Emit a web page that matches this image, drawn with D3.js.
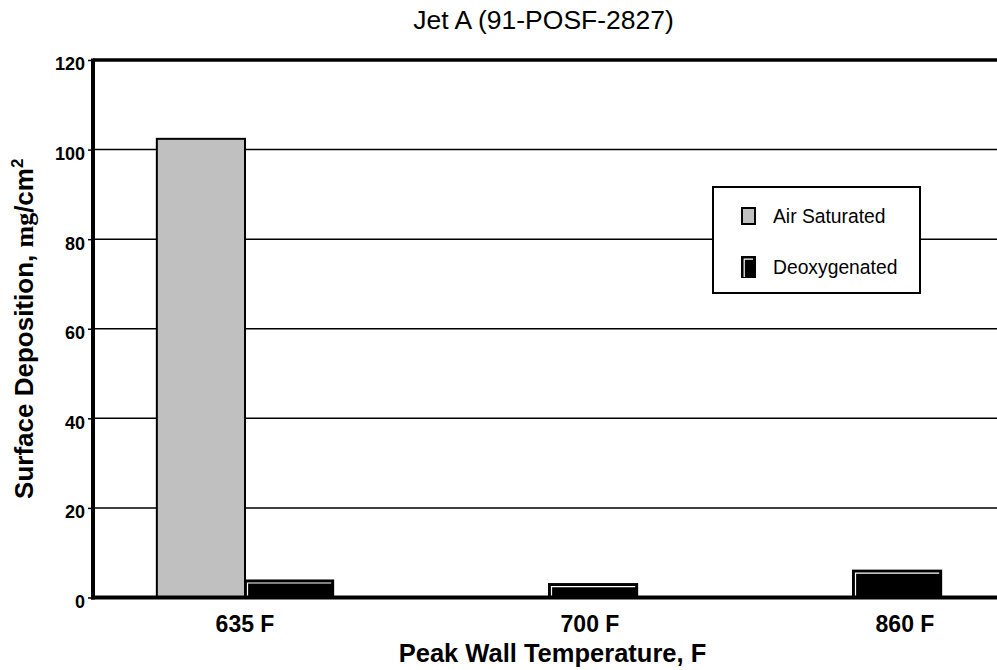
<!DOCTYPE html>
<html>
<head>
<meta charset="utf-8">
<script src="https://cdn.jsdelivr.net/npm/d3@7"></script>
<style>
  html, body { margin: 0; padding: 0; background: #fff; }
  svg { display: block; }
</style>
</head>
<body>
<svg id="chart" width="997" height="670"></svg>
<script>
// ---- data ----
const categories = ["635 F", "700 F", "860 F"];
const seriesNames = ["Air Saturated", "Deoxygenated"];
const airSaturated = [102.4, 0, 0];
const deoxygenated = [3.8, 3.0, 6.0];
const yTicks = [0, 20, 40, 60, 80, 100, 120];
const titleText = "Jet A (91-POSF-2827)";
const xTitleText = "Peak Wall Temperature, F";

// ---- layout ----
const W = 997, H = 670;
const plot = { left: 93, right: 1005, top: 60, bottom: 597.5 };
const tickLabelDx = [0, 41, 52];   // category label nudges as in reference
const colors = { "Air Saturated": "#c0c0c0", "Deoxygenated": "#000000" };
const FONT = "'Liberation Sans', Arial, sans-serif";

const svg = d3.select("#chart");

const x = d3.scaleBand().domain(categories).range([plot.left, plot.right])
  .paddingInner(0.42).paddingOuter(0.21);
const xs = d3.scaleBand().domain(seriesNames).range([0, x.bandwidth()]);
const y = d3.scaleLinear().domain([0, 120]).range([plot.bottom, plot.top]);

// gridlines (interior)
svg.append("g").selectAll("line")
  .data(yTicks.filter(t => t > 0 && t < 120))
  .join("line")
  .attr("x1", plot.left).attr("x2", plot.right)
  .attr("y1", d => y(d)).attr("y2", d => y(d))
  .attr("stroke", "#000").attr("stroke-width", 1.5);

// top frame line
svg.append("line")
  .attr("x1", plot.left).attr("x2", plot.right)
  .attr("y1", y(120)).attr("y2", y(120))
  .attr("stroke", "#000").attr("stroke-width", 3.5);

// bars
const rows = categories.map((c, i) => ({ cat: c, vals: [
  { s: "Air Saturated", v: airSaturated[i] },
  { s: "Deoxygenated", v: deoxygenated[i] }
]}));
const groups = svg.append("g").selectAll("g").data(rows).join("g")
  .attr("transform", d => `translate(${x(d.cat)},0)`);
groups.selectAll("rect.bar").data(d => d.vals.filter(v => v.v > 0)).join("rect")
  .attr("class", "bar")
  .attr("x", d => xs(d.s))
  .attr("y", d => y(d.v))
  .attr("width", xs.bandwidth())
  .attr("height", d => y(0) - y(d.v))
  .attr("fill", d => colors[d.s])
  .attr("stroke", "#000").attr("stroke-width", 2);
// white bevel highlight on dark bars
groups.selectAll("path.hl").data(d => d.vals.filter(v => v.v > 0 && v.s === "Deoxygenated")).join("path")
  .attr("class", "hl")
  .attr("d", d => {
    const x0 = xs(d.s) + 2.5, y0 = y(d.v) + 2.5, x1 = xs(d.s) + xs.bandwidth() - 2, y1 = y(0);
    return `M${x0},${y1}V${y0}H${x1}`;
  })
  .attr("fill", "none").attr("stroke", "#fff").attr("stroke-width", 1.2);

// y axis
const yAxis = d3.axisLeft(y).tickValues(yTicks).tickSize(5).tickPadding(4).tickFormat(d3.format("d"));
const gy = svg.append("g").attr("transform", `translate(${plot.left},0)`).call(yAxis);
gy.select(".domain").attr("stroke-width", 4).attr("d", `M0,${plot.top - 1.5}V${plot.bottom + 2}`);
gy.selectAll(".tick line").attr("stroke-width", 1.5);
gy.selectAll(".tick text")
  .attr("font-family", FONT).attr("font-weight", "bold").attr("font-size", 18)
  .attr("fill", "#000").attr("dy", "0.55em").attr("x", -8);

// x axis
const xAxis = d3.axisBottom(x).tickSize(0).tickPadding(0);
const gx = svg.append("g").attr("transform", `translate(0,${plot.bottom})`).call(xAxis);
gx.select(".domain").attr("stroke-width", 4).attr("d", `M${plot.left - 2},0H${plot.right}`);
gx.selectAll(".tick text")
  .attr("font-family", FONT).attr("font-weight", "bold").attr("font-size", 23)
  .attr("fill", "#000").attr("y", 34.5).attr("dy", 0)
  .attr("dx", (d, i) => tickLabelDx[i]);

// title
svg.append("text")
  .attr("x", 543.5).attr("y", 28.5)
  .attr("text-anchor", "middle")
  .attr("font-family", FONT).attr("font-size", 26.5)
  .text(titleText);

// x title
svg.append("text")
  .attr("x", 552.5).attr("y", 662)
  .attr("text-anchor", "middle")
  .attr("font-family", FONT).attr("font-weight", "bold").attr("font-size", 25.5)
  .text(xTitleText);

// y title
const yt = svg.append("text")
  .attr("transform", `translate(33,${(plot.top + plot.bottom) / 2}) rotate(-90)`)
  .attr("text-anchor", "middle")
  .attr("font-family", FONT).attr("font-weight", "bold").attr("font-size", 26);
yt.append("tspan").text("Surface Deposition, ");
yt.append("tspan").attr("font-family", "'Liberation Serif', 'Times New Roman', serif").text("mg");
yt.append("tspan").text("/cm");
yt.append("tspan").attr("font-size", 17).attr("dy", -10).text("2");

// legend
const lg = svg.append("g");
lg.append("rect").attr("x", 713).attr("y", 187).attr("width", 207).attr("height", 106)
  .attr("fill", "#fff").attr("stroke", "#000").attr("stroke-width", 2);
const items = lg.selectAll("g.item").data(seriesNames).join("g").attr("class", "item")
  .attr("transform", (d, i) => `translate(742,${216 + i * 51})`);
items.append("rect").attr("x", 0).attr("y", d => d === "Deoxygenated" ? -10 : -8)
  .attr("width", 13).attr("height", d => d === "Deoxygenated" ? 20 : 16)
  .attr("fill", d => colors[d]).attr("stroke", "#000").attr("stroke-width", 2);
items.filter(d => d === "Deoxygenated").append("path")
  .attr("d", "M2.2,10V-7.8H11").attr("fill", "none").attr("stroke", "#fff").attr("stroke-width", 1.2);
items.append("text").attr("x", 31).attr("y", 7)
  .attr("font-family", FONT).attr("font-size", 19.3).text(d => d);
</script>
</body>
</html>
